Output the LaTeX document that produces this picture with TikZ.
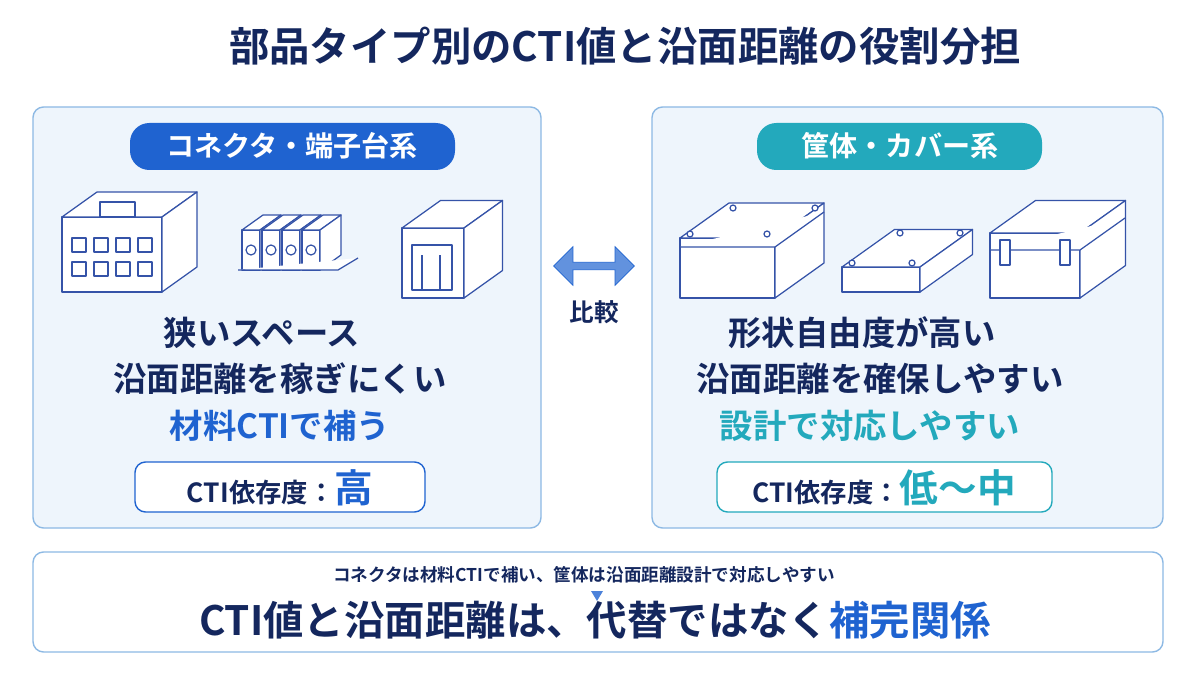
\documentclass[tikz,border=0pt]{standalone}
\usepackage{fontspec}
\setmainfont{Noto Sans CJK JP}[BoldFont={* Bold}]
\usetikzlibrary{arrows.meta,shapes.arrows,positioning}
\definecolor{navy}{HTML}{14275E}
\definecolor{accblue}{HTML}{1F63D0}
\definecolor{accteal}{HTML}{23A9BC}
\definecolor{panelfill}{HTML}{EEF5FC}
\definecolor{panelline}{HTML}{8DB9E4}
\definecolor{sketch}{HTML}{3553A8}
\tikzset{
  panel/.style={draw=panelline, fill=panelfill, rounded corners=6pt, line width=0.8pt},
  pill/.style={rounded corners=11pt, text=white, font=\bfseries\fontsize{16}{16}\selectfont},
  body/.style={text=navy, font=\bfseries\fontsize{19}{19}\selectfont},
  level/.style={draw=#1, fill=white, rounded corners=6pt, line width=0.8pt},
  part/.style={draw=sketch, fill=white, line width=0.7pt, line join=round}
}
% isometric box: front-bottom-left x,y ; width ; height ; depth
\newcommand\isobox[5]{%
  \path[part] (#1,#2) rectangle ++(#3,-#4);
  \path[part] (#1,#2-#4) -- ++(0.7*#5,-0.5*#5) -- ++(#3,0) -- ++(-0.7*#5,0.5*#5) -- cycle;
  \path[part] (#1+#3,#2) -- ++(0.7*#5,-0.5*#5) -- ++(0,-#4) -- ++(-0.7*#5,0.5*#5) -- cycle;
}
\begin{document}
\begin{tikzpicture}[x=0.02cm, y=-0.02cm]
\useasboundingbox[fill=white] (0,0) rectangle (1200,675);

\node[text=navy, font=\bfseries\fontsize{23}{23}\selectfont] (title) at (625,46) {部品タイプ別のCTI値と沿面距離の役割分担};

% panels
\draw[panel] (33,107) rectangle (541,528);
\draw[panel] (652,107) rectangle (1163,528);
\fill[pill, fill=accblue] (130,123) rectangle (455,170);
\node[pill] (conn) at (292,146) {コネクタ・端子台系};
\fill[pill, fill=accteal] (757,123) rectangle (1042,170);
\node[pill] (case) at (900,146) {筐体・カバー系};

% connector sketches
\isobox{62}{292}{100}{75}{50}
\foreach \i in {0,1,2,3} {
  \draw[part] (72+\i*22,238) rectangle ++(14,14);
  \draw[part] (72+\i*22,262) rectangle ++(14,14);
}
\draw[part] (100,217) rectangle ++(35,-15);
\foreach \i in {0,1,2,3} {
  \isobox{242+\i*20}{270}{18}{40}{30}
  \draw[part] (251+\i*20,250) circle (5);
}
\draw[part] (238,270) -- ++(100,0) -- ++(20,-12);
\isobox{402}{298}{62}{70}{55}
\draw[part] (412,290) rectangle ++(40,-45);
\draw[part] (422,290) -- ++(0,-35) (440,290) -- ++(0,-35);

% enclosure sketches
\isobox{680}{298}{95}{60}{70}
\draw[part] (680,247) -- ++(95,0) -- ++(49,-35);
\foreach \p in {(690,234),(767,234),(733,208),(815,208)} \draw[part] \p circle (3);
\isobox{842}{292}{78}{25}{75}
\foreach \p in {(852,263),(912,263),(900,233),(960,233)} \draw[part] \p circle (3);
\isobox{990}{298}{90}{65}{65}
\draw[part] (990,250) -- ++(90,0) -- ++(45,-32);
\foreach \x in {1000,1060} \draw[part] (\x,240) rectangle ++(10,25);

% compare arrow
\node[double arrow, fill=accblue!70, draw=accblue, double arrow head extend=5pt,
  minimum height=46pt, minimum width=22pt, inner sep=1pt] (cmp) at (594,266) {};
\node[text=navy, font=\bfseries\fontsize{14}{14}\selectfont, below=14pt of cmp] (cmplabel) {比較};

% panel texts
\node[body] (l1) at (262,333) {狭いスペース};
\node[body] (l2) at (280,379) {沿面距離を稼ぎにくい};
\node[body, text=accblue] (l3) at (280,426) {材料CTIで補う};
\draw[level=accblue] (135,462) rectangle (425,512);
\node[text=navy, font=\bfseries] (l4) at (280,488) {\fontsize{15}{15}\selectfont CTI依存度：\fontsize{22}{22}\selectfont\color{accblue}高};

\node[body] (r1) at (862,333) {形状自由度が高い};
\node[body] (r2) at (880,379) {沿面距離を確保しやすい};
\node[body, text=accteal] (r3) at (870,426) {設計で対応しやすい};
\draw[level=accteal] (717,462) rectangle (1052,512);
\node[text=navy, font=\bfseries] (r4) at (884,488) {\fontsize{15}{15}\selectfont CTI依存度：\fontsize{22}{22}\selectfont\color{accteal}低〜中};

% summary
\draw[panel, fill=white] (33,552) rectangle (1163,652);
\node[text=navy, font=\bfseries\fontsize{10}{10}\selectfont] (sum1) at (584,575) {コネクタは材料CTIで補い、筐体は沿面距離設計で対応しやすい};
\fill[accblue!80] (591,591) -- (603,591) -- (597,601) -- cycle;
\node[text=navy, font=\bfseries\fontsize{23}{23}\selectfont] (sum2) at (595,620) {CTI値と沿面距離は、代替ではなく\textcolor{accblue}{補完関係}};
\end{tikzpicture}
\end{document}
